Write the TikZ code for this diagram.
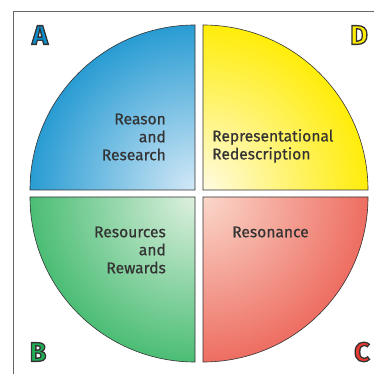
\documentclass[tikz,border=0pt]{standalone}
\usepackage{fontspec}
\setsansfont{Fira Sans}
\newfontfamily\quadfont{Fira Sans}[FakeBold=0.6]
\usepackage{tikz}
\usetikzlibrary{positioning}
\usepackage{xcolor}

\definecolor{qblue}{HTML}{0A8ECC}
\definecolor{qbluelight}{HTML}{D4E9F7}
\definecolor{qyellow}{HTML}{FFEC00}
\definecolor{qyellowlight}{HTML}{FFFBE2}
\definecolor{qgreen}{HTML}{1FAE55}
\definecolor{qgreenlight}{HTML}{DDF0DF}
\definecolor{qred}{HTML}{E8392E}
\definecolor{qredlight}{HTML}{FAD8CB}
\definecolor{qtext}{HTML}{333333}
\definecolor{qframe}{HTML}{666666}

% letter filled in a colour, stroked in dark grey
\newcommand{\outlined}[2]{\textcolor{#1}{\special{pdf:literal direct 2 Tr 1.3 w 0.2 0.2 0.2 RG}#2\special{pdf:literal direct 0 Tr}}}

\begin{document}
\begin{tikzpicture}[x=1pt,y=1pt]
  \tikzstyle{edge}=[draw=qtext,line width=0.6pt]
  \tikzstyle{label}=[text=qtext,font=\quadfont\fontsize{15.6}{18}\selectfont,inner sep=0pt]
  \tikzstyle{corner}=[font=\sffamily\bfseries\fontsize{27}{27}\selectfont,inner sep=0pt]

  \useasboundingbox (0,0) rectangle (374,374);
  \fill[white] (0,0) rectangle (374,374);

  % frame
  \draw[qframe,line width=1pt] (13.5,0) -- (13.5,362) -- (374,362);

  % A: blue quarter
  \begin{scope}
    \clip (195,184) -- ++(-165,0) arc[start angle=180,end angle=90,radius=165] -- cycle;
    \shade[inner color=qbluelight,outer color=qblue] (195,184) circle (195);
  \end{scope}
  \draw[edge] (195,184) -- ++(-165,0) arc[start angle=180,end angle=90,radius=165] -- cycle;

  % D: yellow quarter
  \begin{scope}
    \clip (203,184) -- ++(0,165) arc[start angle=90,end angle=0,radius=165] -- cycle;
    \shade[inner color=qyellowlight,outer color=qyellow] (203,184) circle (172);
  \end{scope}
  \draw[edge] (203,184) -- ++(0,165) arc[start angle=90,end angle=0,radius=165] -- cycle;

  % B: green quarter
  \begin{scope}
    \clip (195,177) -- ++(0,-165) arc[start angle=270,end angle=180,radius=165] -- cycle;
    \shade[inner color=qgreenlight,outer color=qgreen] (195,177) circle (215);
  \end{scope}
  \draw[edge] (195,177) -- ++(0,-165) arc[start angle=270,end angle=180,radius=165] -- cycle;

  % C: red quarter
  \begin{scope}
    \clip (203,177) -- ++(165,0) arc[start angle=0,end angle=-90,radius=165] -- cycle;
    \shade[inner color=qredlight,outer color=qred] (203,177) circle (245);
  \end{scope}
  \draw[edge] (203,177) -- ++(165,0) arc[start angle=0,end angle=-90,radius=165] -- cycle;

  % quadrant texts
  \node[label,align=right,anchor=east] (reason) at (166,237) {Reason\\and\\Research};
  \node[label,align=left,anchor=west] (redesc) at (212,228) {Representational\\Redescription};
  \node[label,align=right,anchor=east] (resources) at (166,124) {Resources\\and\\Rewards};
  \node[label,anchor=west] (resonance) at (232,142) {Resonance};

  % corner letters
  \node[corner] (la) at (40,339) {\outlined{qblue}{A}};
  \node[corner] (ld) at (359,339) {\outlined{qyellow}{D}};
  \node[corner] (lb) at (38,22) {\outlined{qgreen}{B}};
  \node[corner] (lc) at (362,22) {\outlined{qred}{C}};
\end{tikzpicture}
\end{document}
